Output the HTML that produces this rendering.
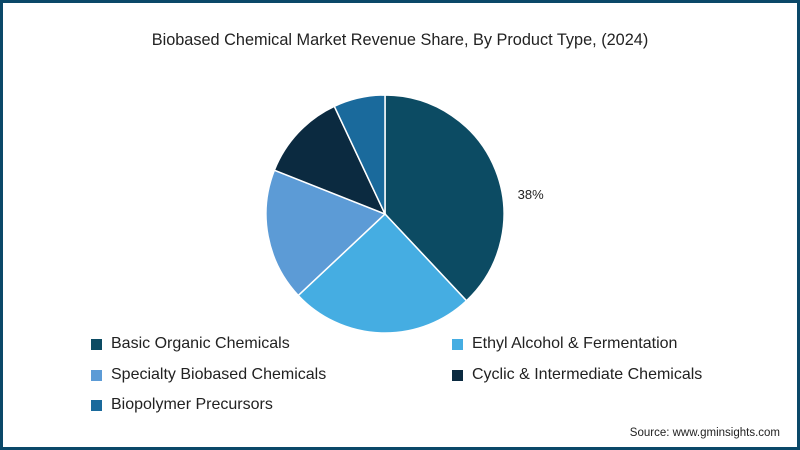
<!DOCTYPE html>
<html><head><meta charset="utf-8"><style>
html,body{margin:0;padding:0;}
body{width:800px;height:450px;overflow:hidden;background:#fff;font-family:"Liberation Sans",sans-serif;}
#frame{position:absolute;left:0;top:0;width:794px;height:444px;border:3px solid #0b4868;background:#fff;}
.t{position:absolute;color:#222;}
.leg{position:absolute;font-size:16px;color:#222;display:flex;align-items:center;}
.sw{width:11px;height:11px;margin-right:9px;display:inline-block;}
</style></head><body>
<div id="frame"></div>
<div class="t" style="left:0;width:800px;text-align:center;top:31px;font-size:16.3px;">Biobased Chemical Market Revenue Share, By Product Type, (2024)</div>
<svg id="pie" width="800" height="450" style="position:absolute;left:0;top:0"></svg>
<div id="legend"></div>
<div class="t" style="right:20px;top:427px;font-size:11.5px;">Source: www.gminsights.com</div>
<script>
const categories=["Basic Organic Chemicals","Ethyl Alcohol & Fermentation","Specialty Biobased Chemicals","Cyclic & Intermediate Chemicals","Biopolymer Precursors"];
const shares=[38,25,18,12,7];
const shownLabels=["38%","","","",""];
const colors=["#0c4b63","#45ade2","#5c9bd6","#0b2a40","#1a6a9c"];
const svg=document.getElementById('pie');
const cx=385,cy=214,r=119;
const total=shares.reduce((a,b)=>a+b,0);
let acc=0;
const ns="http://www.w3.org/2000/svg";
shares.forEach((v,i)=>{
  const a0=acc/total*2*Math.PI; acc+=v; const a1=acc/total*2*Math.PI;
  const x0=cx+r*Math.sin(a0),y0=cy-r*Math.cos(a0),x1=cx+r*Math.sin(a1),y1=cy-r*Math.cos(a1);
  const p=document.createElementNS(ns,'path');
  p.setAttribute('d',`M${cx},${cy}L${x0},${y0}A${r},${r} 0 ${a1-a0>Math.PI?1:0} 1 ${x1},${y1}Z`);
  p.setAttribute('fill',colors[i]);p.setAttribute('stroke','#fff');p.setAttribute('stroke-width','1.5');
  
  
  svg.appendChild(p);
  if(shownLabels[i]){
    const am=(a0+a1)/2;
    const t=document.createElementNS(ns,'text');
    t.setAttribute('x',cx+r*Math.sin(am)+35);t.setAttribute('y',cy-r*Math.cos(am)+29);
    t.setAttribute('font-size','13');t.setAttribute('fill','#222');t.setAttribute('text-anchor','middle');
    t.setAttribute('font-family','Liberation Sans');
    t.textContent=shownLabels[i];
    
    
    svg.appendChild(t);
  }
});
const leg=document.getElementById('legend');
const pos=[[91,345],[452,345],[91,376],[452,376],[91,406]];
categories.forEach((c,i)=>{
  const d=document.createElement('div');d.className='leg';
  d.style.left=pos[i][0]+'px';d.style.top=(pos[i][1]-10)+'px';
  d.innerHTML='<span class="sw" style="background:'+colors[i]+'"></span>'+c.replace('&','&amp;');
  
  
  leg.appendChild(d);
});
</script>
</body></html>
